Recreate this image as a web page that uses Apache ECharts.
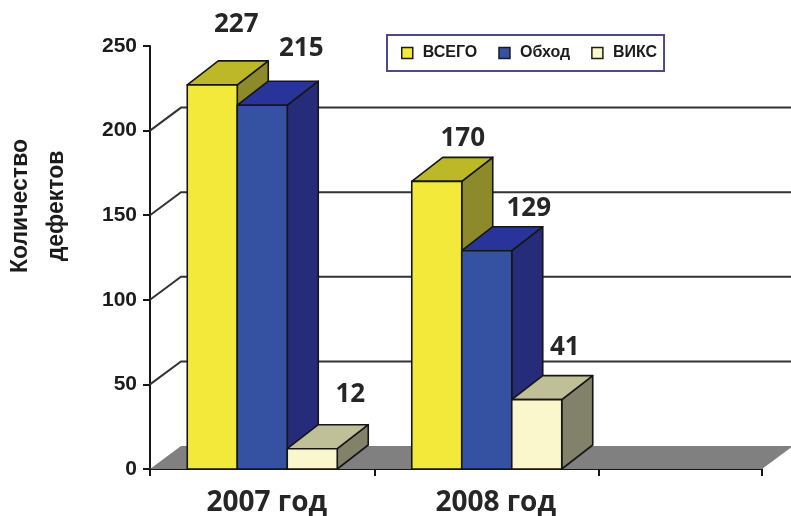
<!DOCTYPE html>
<html>
<head>
<meta charset="utf-8">
<style>html,body{margin:0;padding:0;background:#fff}#c{width:791px;height:516px}</style>
<script src="https://cdn.jsdelivr.net/npm/echarts@6/dist/echarts.min.js"></script>
</head>
<body>
<div id="c"></div>
<script>
const categories = ['2007 год', '2008 год'];
const vsego = [227, 170];
const obhod = [215, 129];
const viks = [12, 41];
const yTicks = [0, 50, 100, 150, 200, 250];
const wallLines = [50, 100, 150, 200];

const xMax = 2.726, barW = 0.2227, dx = 31, dy = 24;
const ink = '#161616';
const looks = [
  {name: 'ВСЕГО', data: vsego, front: '#f2e93a', top: '#bdb827', side: '#8d8a2c', shift: [[24, -36], [26, -19]]},
  {name: 'Обход', data: obhod, front: '#3551a2', top: '#28349a', side: '#262b7a', shift: [[39, -33], [42, -18]]},
  {name: 'ВИКС', data: viks, front: '#fbf7cd', top: '#bfbf98', side: '#82826a', shift: [[38, -30], [28, -28]]}
];
const labelFont = 'bold 26px "Open Sans"';

function barItem(s, look) {
  return function (params, api) {
    const i = api.value(0), v = api.value(1);
    const c = i + 0.5 + (s - 1) * barW;
    const a = api.coord([c - barW / 2, v]);
    const b = api.coord([c + barW / 2, 0]);
    const [x0, y0] = a, [x1, y1] = b;
    const line = {stroke: ink, lineWidth: 1.6, lineJoin: 'round'};
    const shift = look.shift[i];
    return {type: 'group', children: [
      {type: 'polygon', shape: {points: [[x1, y0], [x1 + dx, y0 - dy], [x1 + dx, y1 - dy], [x1, y1]]}, style: {fill: look.side, ...line}},
      {type: 'polygon', shape: {points: [[x0, y0], [x0 + dx, y0 - dy], [x1 + dx, y0 - dy], [x1, y0]]}, style: {fill: look.top, ...line}},
      {type: 'rect', shape: {x: x0, y: y0, width: x1 - x0, height: y1 - y0}, style: {fill: look.front, ...line}},
      {type: 'text', style: {text: String(v), x: (x0 + x1) / 2 + shift[0], y: y0 - dy + shift[1], fill: '#262626', font: labelFont, align: 'center', verticalAlign: 'middle'}}
    ]};
  };
}

const chart = echarts.init(document.getElementById('c'), null, {renderer: 'canvas'});
chart.setOption({
  animation: false,
  backgroundColor: '#fff',
  grid: {left: 150, right: 29, top: 46, bottom: 47, containLabel: false, outerBoundsMode: 'none'},
  legend: {
    data: looks.map(l => l.name),
    left: 387, top: 35,
    orient: 'horizontal',
    padding: [10, 7, 10, 14],
    itemGap: 21,
    itemWidth: 11, itemHeight: 11,
    icon: 'rect',
    itemStyle: {borderColor: '#1c1c1c', borderWidth: 1.5},
    borderColor: '#4c4a8c', borderWidth: 2,
    textStyle: {fontFamily: 'Liberation Sans', fontWeight: 'bold', fontSize: 16, color: '#1c1c1c', padding: [0, 0, 0, 5]}
  },
  xAxis: {
    type: 'value', min: 0, max: xMax, interval: 1,
    splitLine: {show: false},
    axisLine: {onZero: false, lineStyle: {color: ink, width: 2}},
    axisTick: {length: 7, lineStyle: {color: ink, width: 2}, customValues: [0, 1, 2, xMax]},
    axisLabel: {
      customValues: [0.52, 1.54], margin: 20,
      formatter: v => categories[Math.floor(v)],
      fontFamily: 'Open Sans', fontWeight: 'bold', fontSize: 28, color: '#262626'
    }
  },
  yAxis: {
    type: 'value', min: yTicks[0], max: yTicks[yTicks.length - 1], interval: 50,
    splitLine: {show: false},
    axisLine: {show: true, lineStyle: {color: ink, width: 2}},
    axisTick: {show: true, length: 7, lineStyle: {color: ink, width: 2}},
    axisLabel: {margin: 13, padding: [8, 0, 0, 0], fontFamily: 'Liberation Sans', fontWeight: 'bold', fontSize: 21, color: '#1c1c1c'},
    name: 'Количество\nдефектов',
    nameLocation: 'middle', nameRotate: 90, nameGap: 75,
    nameTextStyle: {fontFamily: 'Liberation Sans', fontWeight: 'bold', fontSize: 23, lineHeight: 36, color: '#1c1c1c', padding: [0, 0, 0, 103]}
  },
  series: [
    {
      type: 'custom', name: 'floor', silent: true, z: 1, clip: false,
      data: [[0, 0]],
      renderItem: (p, api) => {
        const a = api.coord([0, 0]), b = api.coord([xMax, 0]);
        return {type: 'polygon', shape: {points: [[a[0], a[1]], [a[0] + dx, a[1] - dy + 1], [b[0] + dx, b[1] - dy + 1], [b[0], b[1]]]},
          style: {fill: '#808080', stroke: null}};
      }
    },
    {
      type: 'custom', name: 'wall', silent: true, z: 1, clip: false,
      data: wallLines.map(v => [0, v]),
      encode: {x: 0, y: 1},
      renderItem: (p, api) => {
        const v = api.value(1);
        const a = api.coord([0, v]), b = api.coord([xMax, v]);
        return {type: 'polyline', shape: {points: [a, [a[0] + dx, a[1] - dy + 1], [b[0] + dx, b[1] - dy + 1]]},
          style: {fill: null, stroke: '#333', lineWidth: 2}};
      }
    },
    ...looks.map((look, s) => ({
      type: 'custom', name: look.name, z: 3 + s, clip: false,
      itemStyle: {color: look.front},
      encode: {x: 0, y: 1},
      data: look.data.map((v, i) => [i, v]),
      renderItem: barItem(s, look)
    }))
  ]
});
</script>
</body>
</html>
